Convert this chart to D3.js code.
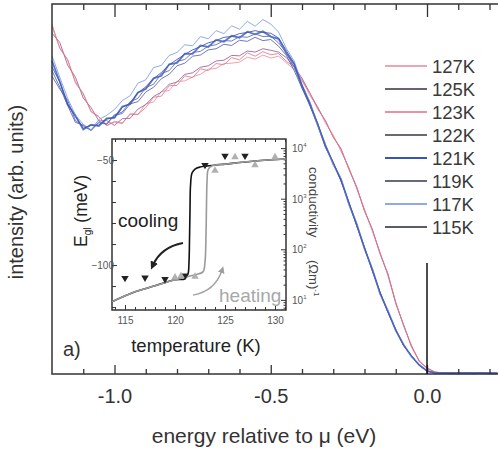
<!DOCTYPE html>
<html>
<head>
<meta charset="utf-8">
<script src="https://cdn.jsdelivr.net/npm/d3@7"></script>
<style>
  body { margin: 0; background: #fff; }
  text { font-family: "Liberation Sans", Arial, sans-serif; }
</style>
</head>
<body>
<svg id="chart" width="498" height="453"></svg>
<script>
// energy grid (eV relative to mu)
const energy = [-1.2, -1.175, -1.15, -1.125, -1.1, -1.075, -1.05, -1.025, -1.0, -0.975,
  -0.95, -0.925, -0.9, -0.875, -0.85, -0.825, -0.8, -0.775, -0.75, -0.725,
  -0.7, -0.675, -0.65, -0.625, -0.6, -0.575, -0.55, -0.525, -0.5, -0.475,
  -0.45, -0.425, -0.4, -0.375, -0.35, -0.325, -0.3, -0.275, -0.25, -0.225,
  -0.2, -0.175, -0.15, -0.125, -0.1, -0.075, -0.05, -0.025, 0.0, 0.025,
  0.05, 0.075, 0.1, 0.125, 0.15, 0.175, 0.2, 0.225];

const temps = ['127K', '125K', '123K', '122K', '121K', '119K', '117K', '115K'];
const legendColors = ['#e48a94', '#3e2a44', '#df6f80', '#3a3448', '#3556b8', '#35384f', '#6a8ee0', '#22243a'];
const lineColors = ['#e8939c', '#9a5c9a', '#e27888', '#5a5fae', '#3f63c8', '#5866b4', '#7a9ce8', '#4250a6'];

const s127 = [93.8, 88.2, 85.0, 78.6, 75.9, 70.8, 69.5, 67.1, 68.3, 67.9, 70.2, 70.1, 73.0, 73.5, 76.4, 76.6, 79.1, 79.2, 80.3, 81.0,
  82.4, 82.6, 83.9, 84.0, 84.3, 85.6, 85.1, 86.2, 85.4, 85.9, 84.1, 82.3, 79.8, 75.2, 72.3, 67.8, 64.6, 60.1, 55.9, 50.0,
  44.6, 38.6, 32.9, 26.5, 19.5, 13.0, 7.8, 3.4, 1.7, 0.6, 0.3, 0.4, 0.2, 0.3, 0.2, 0.3, 0.2, 0.2];
const s125 = [92.1, 89.6, 83.5, 80.2, 74.6, 72.0, 68.4, 68.5, 67.2, 69.0, 69.1, 71.6, 72.8, 75.0, 76.2, 78.3, 78.9, 81.0, 81.4, 82.9,
  83.3, 84.6, 84.8, 86.1, 86.0, 87.3, 87.0, 87.9, 87.5, 87.0, 85.5, 83.1, 79.9, 76.0, 72.0, 68.4, 64.0, 60.8, 55.4, 50.6,
  44.0, 39.2, 32.4, 27.0, 19.0, 13.4, 7.4, 3.6, 1.5, 0.5, 0.3, 0.2, 0.3, 0.2, 0.3, 0.2, 0.2, 0.3];
const s123 = [94.5, 88.0, 84.9, 79.0, 75.6, 71.0, 69.6, 67.2, 68.1, 67.7, 70.3, 70.2, 72.0, 74.8, 75.1, 77.9, 78.0, 80.6, 80.1, 82.5,
  82.0, 83.9, 83.6, 85.5, 84.9, 86.8, 85.9, 87.1, 86.3, 86.6, 84.5, 83.0, 79.2, 75.9, 71.6, 68.5, 64.0, 60.9, 55.3, 50.5,
  44.1, 39.0, 32.5, 27.1, 19.3, 13.1, 7.7, 3.4, 1.6, 0.5, 0.3, 0.3, 0.2, 0.3, 0.2, 0.2, 0.3, 0.2];
const s122 = [82.0, 77.5, 72.6, 68.0, 67.3, 65.9, 67.9, 67.5, 69.9, 70.4, 73.0, 73.6, 76.2, 77.5, 79.8, 81.0, 83.3, 84.0, 85.9, 86.2,
  87.6, 87.9, 89.1, 88.8, 90.2, 89.9, 91.0, 90.1, 90.4, 88.6, 86.1, 82.0, 77.3, 72.5, 67.3, 61.2, 57.2, 52.0, 46.5, 40.0,
  34.3, 27.8, 22.1, 16.6, 12.0, 7.7, 5.0, 2.3, 0.9, 0.3, 0.2, 0.3, 0.2, 0.2, 0.3, 0.2, 0.3, 0.2];
const s121 = [84.6, 79.0, 72.8, 69.9, 66.1, 67.4, 67.0, 69.1, 69.2, 72.3, 72.9, 76.1, 77.0, 79.9, 80.6, 83.7, 84.1, 86.6, 86.5, 88.8,
  88.4, 90.3, 89.8, 91.4, 90.9, 92.5, 91.8, 92.6, 91.2, 90.6, 86.7, 83.8, 77.5, 73.2, 67.4, 61.8, 56.8, 52.6, 46.0, 40.5,
  33.9, 28.3, 21.7, 17.0, 11.8, 7.9, 4.8, 2.5, 0.8, 0.3, 0.3, 0.2, 0.2, 0.3, 0.2, 0.3, 0.2, 0.2];
const s119 = [80.5, 77.0, 74.0, 68.5, 67.0, 65.8, 68.2, 67.6, 70.1, 70.8, 73.6, 74.5, 77.4, 78.3, 81.2, 82.0, 84.5, 85.0, 86.9, 87.2,
  88.6, 89.0, 90.1, 90.0, 91.2, 91.0, 91.9, 91.2, 91.3, 89.5, 86.8, 82.9, 77.9, 72.7, 67.8, 61.4, 57.1, 52.2, 46.4, 40.1,
  34.2, 28.0, 22.0, 16.7, 12.0, 7.7, 4.9, 2.4, 0.8, 0.3, 0.2, 0.3, 0.2, 0.3, 0.2, 0.2, 0.3, 0.2];
const s117 = [86.0, 80.2, 74.5, 70.0, 67.5, 66.0, 68.8, 69.9, 71.5, 73.9, 75.2, 78.6, 79.5, 82.8, 83.4, 86.1, 86.9, 89.0, 88.7, 91.2,
  90.6, 92.8, 92.0, 94.1, 93.2, 95.3, 94.0, 95.8, 94.6, 92.4, 88.0, 84.6, 78.4, 73.6, 67.2, 62.0, 56.6, 52.8, 45.9, 40.6,
  33.8, 28.4, 21.6, 17.1, 11.7, 8.0, 4.7, 2.5, 0.7, 0.4, 0.3, 0.2, 0.3, 0.2, 0.2, 0.3, 0.2, 0.3];
const s115 = [83.0, 78.9, 73.0, 69.5, 66.4, 67.2, 67.3, 68.9, 69.4, 72.0, 73.2, 76.0, 77.6, 79.8, 81.5, 83.6, 85.0, 86.4, 87.6, 88.5,
  89.5, 90.1, 91.0, 91.2, 92.0, 92.3, 92.8, 92.3, 92.1, 90.8, 87.4, 83.9, 78.1, 73.1, 67.7, 61.7, 57.1, 52.4, 46.3, 40.3,
  34.0, 28.2, 21.9, 16.8, 11.9, 7.8, 4.9, 2.4, 0.8, 0.3, 0.3, 0.2, 0.3, 0.2, 0.2, 0.3, 0.2, 0.2];
const spectra = [s127, s125, s123, s122, s121, s119, s117, s115];

const xMajor = [-1.0, -0.5, 0.0];
const xMinor = [-1.1, -0.9, -0.8, -0.7, -0.6, -0.4, -0.3, -0.2, -0.1, 0.1, 0.2];
const xLabels = ['-1.0', '-0.5', '0.0'];

// inset: leading edge vs temperature, conductivity
const coolT = [131.1, 128, 125, 123.2, 122.5, 122.0, 121.7, 121.55, 121.5, 121.45, 121.4, 121.3, 121.0, 120, 118, 116, 113.7];
const coolS = [6070, 5550, 4830, 4420, 4220, 3860, 3210, 1780, 598, 153, 56, 32.7, 26.1, 24.9, 19.0, 14.5, 9.2];
const heatT = [113.7, 116, 118, 120, 122, 122.8, 123.0, 123.1, 123.15, 123.2, 123.3, 123.5, 124, 125, 128, 131.1];
const heatS = [9.2, 14.5, 19.0, 24.9, 31.3, 35.8, 56, 192, 752, 2130, 3680, 4220, 4620, 4830, 5550, 6070];
const coolPtsT = [115, 117, 119, 121, 123, 125, 127];
const coolPtsE = [-106.2, -106, -106.7, -105, -52.4, -48, -48];
const heatPtsT = [120, 120.6, 122, 124, 126, 128, 130];
const heatPtsE = [-105.8, -105.2, -105.5, -55, -48.6, -52.4, -48.6];

const svg = d3.select('#chart');
const ink = '#333';

const x = d3.scaleLinear().domain([-1.2, 0]).range([52, 427]);
const y = d3.scaleLinear().domain([0, 100]).range([374, 4]);
const W = 498;

// spectra
const line = d3.line().x((d, i) => x(energy[i])).y(d => y(d));
svg.append('g')
  .attr('fill', 'none')
  .selectAll('path')
  .data(spectra)
  .join('path')
  .attr('stroke', (d, i) => lineColors[i])
  .attr('stroke-width', (d, i) => i === 4 ? 1.8 : 1)
  .attr('stroke-opacity', 0.85)
  .attr('d', line);

// frame
svg.append('path')
  .attr('fill', 'none').attr('stroke', ink).attr('stroke-width', 1.5)
  .attr('d', `M${W},${y(100)}H${x(-1.2)}V${y(0)}H${W}`);

// bottom and top ticks
const gb = svg.append('g').attr('transform', `translate(0,${y(0)})`);
gb.call(d3.axisBottom(x).tickValues(xMajor).tickSize(-9).tickFormat((d, i) => xLabels[i]).tickPadding(15));
const gb2 = svg.append('g').attr('transform', `translate(0,${y(0)})`);
gb2.call(d3.axisBottom(x).tickValues(xMinor).tickSize(-5).tickFormat(''));
const gt = svg.append('g').attr('transform', `translate(0,${y(100)})`);
gt.call(d3.axisTop(x).tickValues(xMajor).tickSize(-13).tickFormat(''));
const gt2 = svg.append('g').attr('transform', `translate(0,${y(100)})`);
gt2.call(d3.axisTop(x).tickValues(xMinor).tickSize(-6).tickFormat(''));
svg.selectAll('.domain').remove();
svg.selectAll('.tick line').attr('stroke', ink).attr('stroke-width', 1.3);
gb.selectAll('.tick text').attr('font-size', 20).attr('fill', ink)
  .attr('font-family', '"Liberation Sans", Arial, sans-serif');

// Fermi level marker
svg.append('line')
  .attr('x1', x(0)).attr('x2', x(0))
  .attr('y1', y(30)).attr('y2', y(0))
  .attr('stroke', '#111').attr('stroke-width', 1.5);

// axis titles
svg.append('text')
  .attr('x', 264).attr('y', 443)
  .attr('text-anchor', 'middle').attr('font-size', 21).attr('fill', ink)
  .text('energy relative to μ (eV)');
svg.append('text')
  .attr('transform', 'translate(23,192) rotate(-90)')
  .attr('text-anchor', 'middle').attr('font-size', 20).attr('fill', ink)
  .text('intensity (arb. units)');

// legend
const leg = svg.append('g');
temps.forEach((t, i) => {
  const ly = 66 + i * 23;
  leg.append('line')
    .attr('x1', 385).attr('x2', 427).attr('y1', ly).attr('y2', ly)
    .attr('stroke', legendColors[i]).attr('stroke-width', i === 4 ? 2 : 1.4);
  leg.append('text')
    .attr('x', 432).attr('y', ly + 7)
    .attr('font-size', 18.5).attr('fill', '#3a3a3a')
    .text(t);
});

// ---------- inset ----------
const ix = d3.scaleLinear().domain([113.7, 131.1]).range([112, 286]);
const iy = d3.scaleLinear().domain([-121.4, -40]).range([310, 139]);
const is = d3.scaleLog().domain([Math.pow(10, 0.8), Math.pow(10, 4.18)]).range([310, 139]);

const inset = svg.append('g');
inset.append('rect')
  .attr('x', ix(113.7)).attr('y', iy(-40))
  .attr('width', ix(131.1) - ix(113.7)).attr('height', iy(-121.4) - iy(-40))
  .attr('fill', '#fff').attr('stroke', ink).attr('stroke-width', 1.5);

const tAll = d3.range(114, 132);
inset.append('g').attr('transform', `translate(0,${iy(-121.4)})`)
  .call(d3.axisBottom(ix).tickValues(tAll).tickSize(-3).tickFormat(''));
inset.append('g').attr('transform', `translate(0,${iy(-121.4)})`)
  .call(d3.axisBottom(ix).tickValues([115, 120, 125, 130]).tickSize(-5).tickPadding(7));
inset.append('g').attr('transform', `translate(0,${iy(-40)})`)
  .call(d3.axisTop(ix).tickValues(tAll).tickSize(-3).tickFormat(''));
inset.append('g').attr('transform', `translate(${ix(113.7)},0)`)
  .call(d3.axisLeft(iy).tickValues([-120, -110, -90, -80, -70, -60]).tickSize(-4).tickFormat(''));
inset.append('g').attr('transform', `translate(${ix(113.7)},0)`)
  .call(d3.axisLeft(iy).tickValues([-100, -50]).tickSize(-5).tickPadding(-2)
    .tickFormat(d3.format('d')));
const logMinor = [];
[1, 10, 100, 1000, 10000].forEach(dec => [2, 3, 4, 5, 6, 7, 8, 9].forEach(m => {
  const v = dec * m;
  if (v > Math.pow(10, 0.8) && v < Math.pow(10, 4.18)) logMinor.push(v);
}));
inset.append('g').attr('transform', `translate(${ix(131.1)},0)`)
  .call(d3.axisRight(is).tickValues(logMinor).tickSize(-2.5).tickFormat(''));
inset.append('g').attr('transform', `translate(${ix(131.1)},0)`)
  .call(d3.axisRight(is).tickValues([10, 100, 1000, 10000]).tickSize(-5).tickFormat(''));
inset.selectAll('.domain').remove();
inset.selectAll('.tick line').attr('stroke', ink).attr('stroke-width', 1);
inset.selectAll('.tick text').attr('fill', '#555').attr('font-size', 10)
  .attr('font-family', '"Liberation Sans Narrow", "Liberation Sans", Arial, sans-serif');

// log labels 10^n
[1, 2, 3, 4].forEach(n => {
  const tx = inset.append('text')
    .attr('x', ix(131.1) + 6).attr('y', is(Math.pow(10, n)) + 4)
    .attr('font-size', 10).attr('fill', '#555');
  tx.append('tspan').text('10');
  tx.append('tspan').attr('font-size', 6).attr('dy', -5).text(n);
});

// conductivity curves
inset.append('path').datum(coolS)
  .attr('fill', 'none').attr('stroke', '#111').attr('stroke-width', 1.6)
  .attr('d', d3.line().x((d, i) => ix(coolT[i])).y(d => is(d)).curve(d3.curveCatmullRom.alpha(0.5)));
inset.append('path').datum(heatS)
  .attr('fill', 'none').attr('stroke', '#9a9a9a').attr('stroke-width', 1.6)
  .attr('d', d3.line().x((d, i) => ix(heatT[i])).y(d => is(d)).curve(d3.curveCatmullRom.alpha(0.5)));

// leading edge points
const tri = d3.symbol().type(d3.symbolTriangle).size(24);
inset.append('g').selectAll('path')
  .data(coolPtsE)
  .join('path')
  .attr('d', tri)
  .attr('transform', (d, i) => `translate(${ix(coolPtsT[i])},${iy(d)}) rotate(180)`)
  .attr('fill', '#222');
inset.append('g').selectAll('path')
  .data(heatPtsE)
  .join('path')
  .attr('d', tri)
  .attr('transform', (d, i) => `translate(${ix(heatPtsT[i])},${iy(d)})`)
  .attr('fill', '#b0b0b0');

// arrows
const defs = svg.append('defs');
[['arrBlack', '#222', 8], ['arrGray', '#a0a0a0', 7]].forEach(([id, c, s]) => {
  defs.append('marker').attr('id', id)
    .attr('viewBox', '0 0 10 10').attr('refX', 4).attr('refY', 5)
    .attr('markerUnits', 'userSpaceOnUse')
    .attr('markerWidth', s).attr('markerHeight', s).attr('orient', 'auto')
    .append('path').attr('d', 'M0,0L10,5L0,10Z').attr('fill', c);
});
inset.append('path')
  .attr('d', `M${ix(120.8)},${iy(-89.5)}Q${ix(118.6)},${iy(-91.5)} ${ix(117.8)},${iy(-100)}`)
  .attr('fill', 'none').attr('stroke', '#222').attr('stroke-width', 2.2)
  .attr('marker-end', 'url(#arrBlack)');
inset.append('path')
  .attr('d', `M${ix(121.8)},${iy(-114.3)}Q${ix(124)},${iy(-112.5)} ${ix(124.7)},${iy(-102.5)}`)
  .attr('fill', 'none').attr('stroke', '#a0a0a0').attr('stroke-width', 1.4)
  .attr('marker-end', 'url(#arrGray)');

inset.append('text')
  .attr('x', ix(114.3)).attr('y', iy(-82))
  .attr('font-size', 19).attr('fill', '#222')
  .text('cooling');
inset.append('text')
  .attr('x', ix(124.4)).attr('y', iy(-117.4))
  .attr('font-size', 19).attr('fill', '#a8a8a8')
  .text('heating');

// inset axis titles
inset.append('text')
  .attr('x', 196).attr('y', 352)
  .attr('text-anchor', 'middle').attr('font-size', 18.5).attr('fill', '#222')
  .text('temperature (K)');
const ey = inset.append('text')
  .attr('transform', 'translate(87,211) rotate(-90)')
  .attr('text-anchor', 'middle').attr('font-size', 17.5).attr('fill', '#222');
ey.append('tspan').text('E');
ey.append('tspan').attr('font-size', 10).attr('dy', 4).text('gl');
ey.append('tspan').attr('dy', -4).text(' (meV)');
inset.append('text')
  .attr('transform', 'translate(309,167) rotate(90)')
  .attr('font-size', 13.5).attr('fill', '#444')
  .text('conductivity');
const cu = inset.append('text')
  .attr('transform', 'translate(309,260) rotate(90)')
  .attr('font-size', 13).attr('fill', '#444');
cu.append('tspan').text('(Ωm)');
cu.append('tspan').attr('font-size', 8).attr('dy', -5).text('-1');

svg.append('text')
  .attr('x', 63).attr('y', 356)
  .attr('font-size', 20).attr('fill', ink)
  .text('a)');
</script>
</body>
</html>
